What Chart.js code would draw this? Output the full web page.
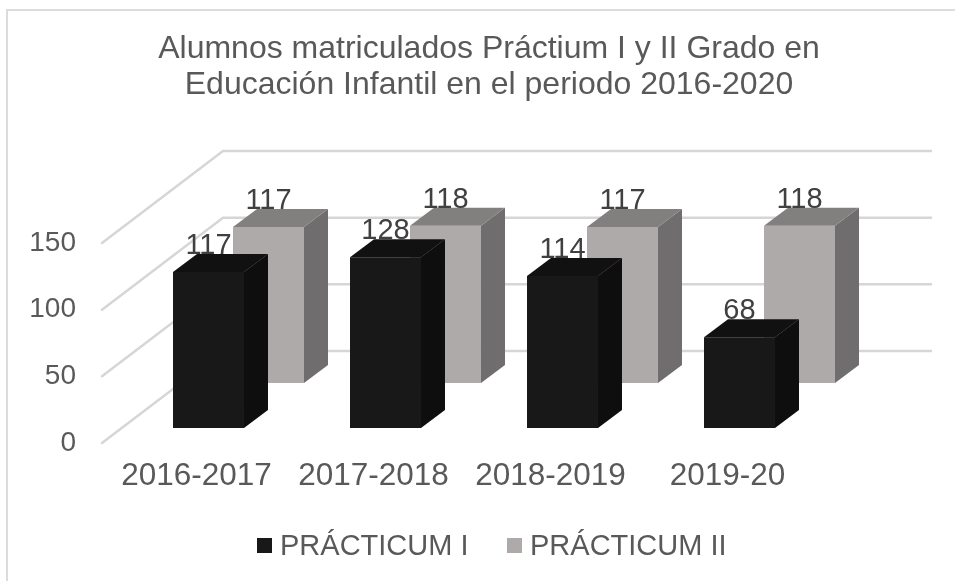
<!DOCTYPE html>
<html>
<head>
<meta charset="utf-8">
<title>Alumnos matriculados</title>
<script src="https://cdn.jsdelivr.net/npm/chart.js@4/dist/chart.umd.min.js"></script>
<style>
    html, body { margin: 0; padding: 0; background: #fff; }
    canvas { display: block; }
</style>
</head>
<body>
<canvas id="chart" width="955" height="581"></canvas>
<script>
// Chart data
const cursos = ['2016-2017', '2017-2018', '2018-2019', '2019-20'];
const practicumI = [117, 128, 114, 68];
const practicumII = [117, 118, 117, 118];
const yTicks = [0, 50, 100, 150];

const FONT = '"Liberation Sans", Arial, sans-serif';
const TEXT = '#595959';

// Depth of each bar and of the floor
const BAR_DEPTH = { x: 24, y: -18 };
const WALL_DEPTH = { x: 115, y: -92 };

function polygon(ctx, color, pts) {
    ctx.fillStyle = color;
    ctx.beginPath();
    pts.forEach((p, i) => i ? ctx.lineTo(p[0], p[1]) : ctx.moveTo(p[0], p[1]));
    ctx.closePath();
    ctx.fill();
}

// Frame of the picture: only top and left sides are visible
const framePlugin = {
    id: 'frame',
    beforeDraw(chart) {
        const { ctx, width, height } = chart;
        ctx.save();
        ctx.strokeStyle = '#dcdcdc';
        ctx.lineWidth = 2;
        ctx.beginPath();
        ctx.moveTo(7, height);
        ctx.lineTo(7, 10);
        ctx.lineTo(width, 10);
        ctx.stroke();
        ctx.restore();
    }
};

// Floor and back wall lines, one per y tick
const wallPlugin = {
    id: 'wall',
    beforeDatasetsDraw(chart) {
        const { ctx, chartArea, scales } = chart;
        ctx.save();
        ctx.strokeStyle = '#d6d6d6';
        ctx.lineWidth = 2.5;
        ctx.lineCap = 'round';
        yTicks.forEach(t => {
            const y = scales.y.getPixelForValue(t);
            ctx.beginPath();
            ctx.moveTo(chartArea.left - 6, y);
            ctx.lineTo(chartArea.left - 6 + 121, y + WALL_DEPTH.y);
            ctx.lineTo(chartArea.right + WALL_DEPTH.x, y + WALL_DEPTH.y);
            ctx.stroke();
        });
        ctx.restore();
    }
};

// Moves each native bar into its depth row, adds side, top and value label
const depthPlugin = {
    id: 'depth',
    beforeDatasetDraw(chart, args) {
        const { ctx } = chart;
        const ds = chart.data.datasets[args.index];
        ctx.save();
        ctx.translate(ds.rowOffset.x, ds.rowOffset.y);
    },
    afterDatasetDraw(chart, args) {
        const { ctx } = chart;
        const ds = chart.data.datasets[args.index];
        args.meta.data.forEach((bar, i) => {
            const l = bar.x - bar.width / 2;
            const r = bar.x + bar.width / 2;
            const d = BAR_DEPTH;
            polygon(ctx, ds.sideColor, [[r, bar.y], [r + d.x, bar.y + d.y], [r + d.x, bar.base + d.y], [r, bar.base]]);
            polygon(ctx, ds.topColor, [[l, bar.y], [l + d.x, bar.y + d.y], [r + d.x, bar.y + d.y], [r, bar.y]]);
            ctx.fillStyle = '#404040';
            ctx.font = '29px ' + FONT;
            ctx.textAlign = 'center';
            ctx.textBaseline = 'alphabetic';
            ctx.fillText(ds.data[i], bar.x, bar.y + d.y);
        });
        ctx.restore();
    }
};

// Legend keeps the short gap between square and text
const legendPlugin = {
    id: 'squareLegend',
    afterDraw(chart) {
        const { ctx } = chart;
        const xs = [257, 507];
        ctx.save();
        ctx.font = '29px ' + FONT;
        ctx.textAlign = 'left';
        ctx.textBaseline = 'alphabetic';
        chart.data.datasets.forEach((ds, i) => {
            ctx.fillStyle = ds.backgroundColor;
            ctx.fillRect(xs[i], 538, 15, 15);
            ctx.fillStyle = TEXT;
            ctx.fillText(ds.label, xs[i] + 23, 555);
        });
        ctx.restore();
    }
};

new Chart(document.getElementById('chart'), {
    type: 'bar',
    data: {
        labels: cursos,
        datasets: [
            {
                label: 'PRÁCTICUM I',
                data: practicumI,
                backgroundColor: '#191818',
                sideColor: '#0f0e0e',
                topColor: '#121111',
                rowOffset: { x: 12, y: -15 }
            },
            {
                label: 'PRÁCTICUM II',
                data: practicumII,
                backgroundColor: '#aeaaaa',
                sideColor: '#6f6d6d',
                topColor: '#827f7f',
                rowOffset: { x: 72, y: -60 }
            }
        ]
    },
    plugins: [framePlugin, wallPlugin, depthPlugin, legendPlugin],
    options: {
        responsive: false,
        animation: false,
        grouped: false,
        categoryPercentage: 1,
        barPercentage: 0.401,
        layout: { padding: { top: 31, right: 0, bottom: 0, left: 23 } },
        scales: {
            x: {
                grid: { display: false },
                border: { display: false },
                ticks: { color: TEXT, font: { family: FONT, size: 31.5 }, padding: 6, maxRotation: 0 },
                afterFit(scale) { scale.height = 138; }
            },
            y: {
                min: 0,
                max: 150,
                grid: { display: false, drawTicks: false },
                border: { display: false },
                ticks: { color: TEXT, font: { family: FONT, size: 28 }, padding: 32, stepSize: 50 },
                afterFit(scale) { scale.width = 85; }
            },
            // empty axis, keeps the plot clear of the back wall on the right
            spacer: {
                position: 'right',
                grid: { display: false },
                border: { display: false },
                ticks: { display: false },
                afterFit(scale) { scale.width = 139; }
            }
        },
        plugins: {
            legend: { display: false },
            tooltip: { enabled: false },
            title: {
                display: true,
                text: ['Alumnos matriculados Práctium I y II Grado en', 'Educación Infantil en el periodo 2016-2020'],
                color: TEXT,
                font: { family: FONT, size: 32, weight: 'normal', lineHeight: 1.125 },
                padding: { top: 0, bottom: 140 }
            }
        }
    }
});
</script>
</body>
</html>
